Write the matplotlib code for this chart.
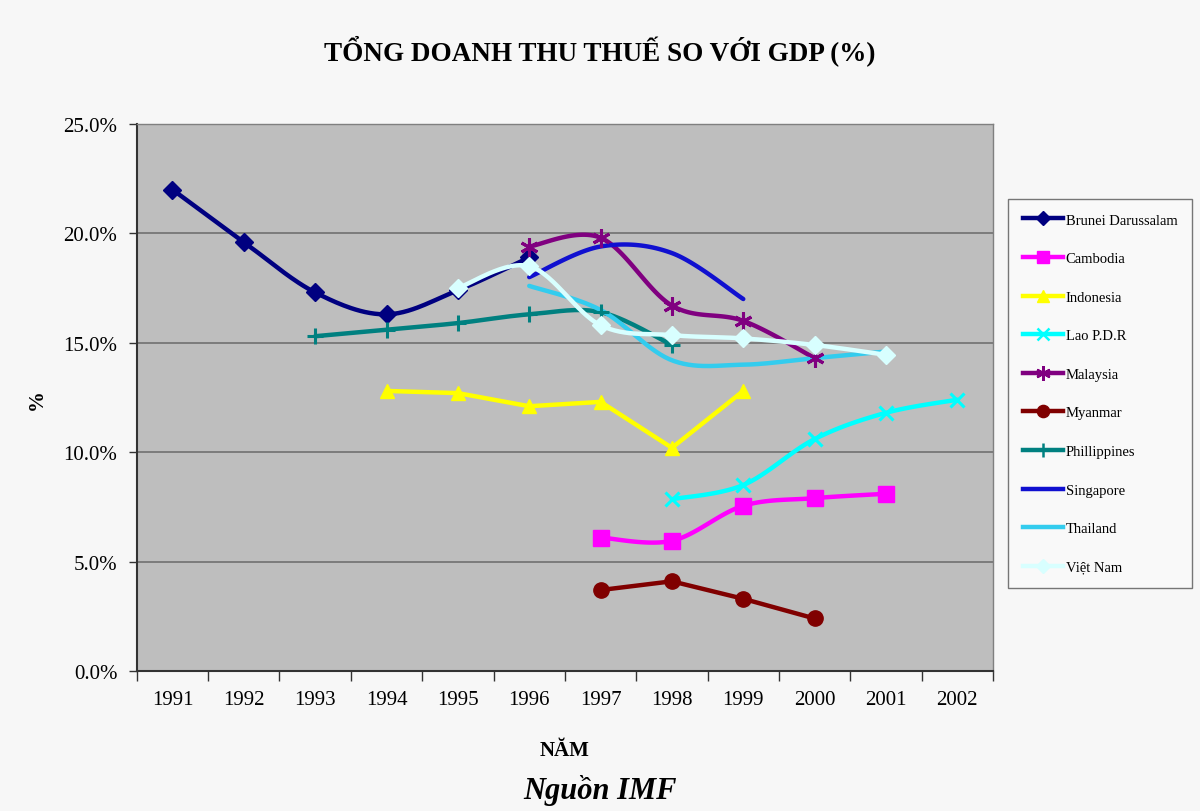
import numpy as np
import matplotlib
matplotlib.use("Agg")
import matplotlib.pyplot as plt
from matplotlib.lines import Line2D

# Tax revenue as a share of GDP (%), by country and year
years = [1991, 1992, 1993, 1994, 1995, 1996, 1997, 1998, 1999, 2000, 2001, 2002]

brunei_years = [1991, 1992, 1993, 1994, 1995, 1996]
brunei = [22.0, 19.6, 17.3, 16.3, 17.4, 18.9]

cambodia_years = [1997, 1998, 1999, 2000, 2001]
cambodia = [6.1, 5.95, 7.55, 7.9, 8.1]

indonesia_years = [1994, 1995, 1996, 1997, 1998, 1999]
indonesia = [12.8, 12.7, 12.1, 12.3, 10.2, 12.8]

lao_years = [1998, 1999, 2000, 2001, 2002]
lao = [7.85, 8.5, 10.6, 11.8, 12.4]

malaysia_years = [1996, 1997, 1998, 1999, 2000]
malaysia = [19.4, 19.8, 16.7, 16.0, 14.3]

myanmar_years = [1997, 1998, 1999, 2000]
myanmar = [3.7, 4.1, 3.3, 2.4]

philippines_years = [1993, 1994, 1995, 1996, 1997, 1998]
philippines = [15.3, 15.6, 15.9, 16.3, 16.4, 14.9]

singapore_years = [1996, 1997, 1998, 1999]
singapore = [18.0, 19.4, 19.1, 17.0]

thailand_years = [1996, 1997, 1998, 1999, 2000, 2001]
thailand = [17.6, 16.5, 14.2, 14.0, 14.3, 14.6]

vietnam_years = [1995, 1996, 1997, 1998, 1999, 2000, 2001]
vietnam = [17.5, 18.5, 15.8, 15.35, 15.2, 14.9, 14.45]

y_ticks = [0, 5, 10, 15, 20, 25]


def smooth_curve(xs, ys, steps=30):
    """Bezier curve through the points (Catmull-Rom style control points)."""
    pts = np.column_stack([xs, ys]).astype(float)
    n = len(pts)
    if n < 3:
        return pts[:, 0], pts[:, 1]
    out = []
    for i in range(n - 1):
        p0 = pts[i - 1] if i > 0 else pts[i]
        p1 = pts[i]
        p2 = pts[i + 1]
        p3 = pts[i + 2] if i + 2 < n else pts[i + 1]
        c1 = p1 + (p2 - p0) / 6.0
        c2 = p2 - (p3 - p1) / 6.0
        t = np.linspace(0, 1, steps, endpoint=(i == n - 2))[:, None]
        seg = ((1 - t) ** 3) * p1 + 3 * ((1 - t) ** 2) * t * c1 \
            + 3 * (1 - t) * (t ** 2) * c2 + (t ** 3) * p2
        out.append(seg)
    out = np.vstack(out)
    return out[:, 0], out[:, 1]


series = [
    ("Brunei Darussalam", brunei_years, brunei, "#000080", "D", 9, True),
    ("Cambodia", cambodia_years, cambodia, "#FF00FF", "s", 11, True),
    ("Indonesia", indonesia_years, indonesia, "#FFFF00", "^", 10, False),
    ("Lao P.D.R", lao_years, lao, "#00FFFF", "x", 10, True),
    ("Malaysia", malaysia_years, malaysia, "#800080", (6, 2, 0), 13, True),
    ("Myanmar", myanmar_years, myanmar, "#800000", "o", 11, False),
    ("Phillippines", philippines_years, philippines, "#008080", "+", 12, True),
    ("Singapore", singapore_years, singapore, "#1010D0", None, 0, True),
    ("Thailand", thailand_years, thailand, "#33CCEE", None, 0, True),
    ("Việt Nam", vietnam_years, vietnam, "#D8FFFF", "D", 9, True),
]

plt.rcParams["font.family"] = ["Liberation Serif", "DejaVu Serif"]

fig = plt.figure(figsize=(12, 8.12), dpi=100)
fig.patch.set_facecolor("#f7f7f7")
ax = fig.add_axes([0.114, 0.1724, 0.7135, 0.6737])
ax.set_facecolor("#bebebe")

handles = []
for name, xs, ys, color, marker, msize, smooth in series:
    if smooth:
        cx, cy = smooth_curve(xs, ys)
    else:
        cx, cy = xs, ys
    ax.plot(cx, cy, color=color, lw=3.2, solid_capstyle="round", zorder=3)
    thin = marker in ("x", "+") or isinstance(marker, tuple)
    if marker is not None:
        ax.plot(xs, ys, ls="none", marker=marker, ms=msize, color=color,
                mec=color, mew=2.2 if thin else 1, zorder=4)
    handles.append(Line2D([], [], color=color, lw=3.2, marker=marker,
                          ms=msize * 0.8 if marker else 0, mec=color,
                          mew=1.8 if thin else 1, label=name))

ax.set_xlim(1990.5, 2002.5)
ax.set_ylim(0, 25)
ax.set_xticks(years)
ax.set_xticklabels([str(y) for y in years])
ax.set_xticks(np.arange(1990.5, 2003, 1), minor=True)
ax.tick_params(axis="x", which="major", length=0, pad=14, labelsize=15)
ax.tick_params(axis="x", which="minor", length=7, width=1, color="#333333")
ax.set_yticks(y_ticks)
ax.set_yticklabels([f"{v:.1f}%" for v in y_ticks])
ax.tick_params(axis="y", length=6, width=1, color="#333333", labelsize=15, pad=8)

ax.yaxis.grid(True, color="#707070", lw=1.2)
ax.set_axisbelow(True)
for side in ("left", "bottom"):
    ax.spines[side].set_color("#333333")
    ax.spines[side].set_linewidth(1.5)
for side in ("top", "right"):
    ax.spines[side].set_color("#808080")
    ax.spines[side].set_linewidth(1.0)

ax.set_xlabel("NĂM", fontsize=15, fontweight="bold", labelpad=22)
fig.text(0.031, 0.508, "%", rotation=90, ha="center", va="center",
         fontsize=15, fontweight="bold")

fig.text(0.5, 0.938, "TỔNG DOANH THU THUẾ SO VỚI GDP (%)", ha="center",
         va="center", fontsize=19.5, fontweight="bold")
fig.text(0.5, 0.008, "Nguồn IMF", ha="center", va="bottom", fontsize=22,
         fontweight="bold", fontstyle="italic")

leg = fig.legend(handles=handles, loc="upper left",
                 bbox_to_anchor=(0.840, 0.754), frameon=True, fancybox=False,
                 fontsize=10.5, labelspacing=1.74, handlelength=2.8,
                 handletextpad=0.15, borderpad=1.0, borderaxespad=0)
leg.get_frame().set_edgecolor("#555555")
leg.get_frame().set_facecolor("#fafafa")
leg.get_frame().set_linewidth(1.0)

fig.savefig("out.png", dpi=100, facecolor=fig.get_facecolor())
